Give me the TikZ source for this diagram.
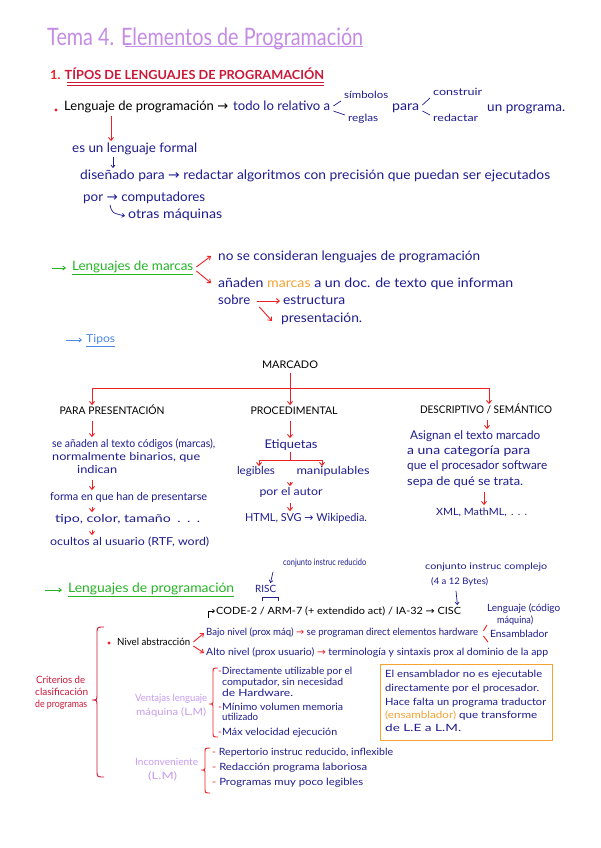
\documentclass[tikz,border=0pt]{standalone}
\usepackage{fontspec}
\usepackage{graphicx}
\setmainfont{Lato}
\newfontfamily\dejavu{DejaVu Sans}
\usetikzlibrary{arrows.meta,calc}
\definecolor{navy}{HTML}{1E1C8E}
\definecolor{hred}{HTML}{EE2024}
\definecolor{dred}{HTML}{CC1838}
\definecolor{hgreen}{HTML}{24B424}
\definecolor{purp}{HTML}{C48CE4}
\definecolor{lav}{HTML}{C89CF0}
\definecolor{horange}{HTML}{F6A234}
\definecolor{lblue}{HTML}{4C88E6}
\newcommand{\harr}{{\dejavu\char"2192}}
\newcommand{\fsz}[1]{\fontsize{#1}{#1}\selectfont}
\newdimen\natw
\newcommand{\fitw}[2]{\settowidth{\natw}{#2}\scalebox{\fpeval{#1/\natw}}[1]{#2}}
\tikzset{
  tx/.style={anchor=west, inner sep=0pt, text=navy, font=\fsz{13}, text height=0.74em, text depth=0.2em},
  tc/.style={tx, anchor=center},
  md/.style={font=\fsz{11}},
  sm/.style={font=\fsz{10}},
  xs/.style={font=\fsz{9}},
  caps/.style={font=\fsz{10.5}},
  ra/.style={draw=hred, line width=0.9pt, -{Straight Barb[length=3pt,width=5pt]}},
  rl/.style={draw=hred, line width=0.9pt},
  na/.style={draw=navy, line width=0.7pt, -{Straight Barb[length=2.5pt,width=4pt]}},
  ga/.style={draw=hgreen, line width=0.9pt, -{Straight Barb[length=2.5pt,width=4pt]}},
  ul/.style={line width=0.8pt},
  hbrace/.style={draw=hred, line width=0.9pt},
}
\begin{document}
\begin{tikzpicture}[x=1pt,y=-1pt]
\useasboundingbox (0,0) rectangle (600,848);
\fill[white] (0,0) rectangle (600,848);

% Title
\node[tx, text=purp, font=\fsz{24}] (title) at (47,43) {\fitw{316}{Tema 4. Elementos de Programación}};
\draw[purp, line width=0.9pt] ($(title.south west)+(78,-1)$) -- ($(title.south east)+(0,-1)$);
\node[tx, text=dred, font=\bfseries\fsz{12.5}] (h1) at (50,77) {\fitw{274}{\textcolor{hred}{1.} TÍPOS DE LENGUAJES DE PROGRAMACIÓN}};
\draw[dred, line width=1.1pt] ($(h1.south west)+(17,1)$) -- ($(h1.south east)+(0,1)$);
\draw[dred, line width=0.5pt] ($(h1.south west)+(17,3)$) -- ($(h1.south east)+(0,3)$);

% Line: lenguaje de programacion
\fill[hred] (56,110) circle (1.7);
\node[tx, text=black] (lp) at (64,108) {\fitw{164}{Lenguaje de programación \harr}};
\node[tx] (todo) at (233,108) {\fitw{97}{todo lo relativo a}};
\node[tx, sm] (simb) at (344,96) {\fitw{44}{símbolos}};
\node[tx, sm] (reg) at (348,119) {\fitw{30}{reglas}};
\draw[navy, line width=0.7pt] ($(todo.east)+(3,-2)$) -- ($(simb.west)+(-3,5)$);
\draw[navy, line width=0.7pt] ($(todo.east)+(3,3)$) -- ($(reg.west)+(-3,-4)$);
\node[tx] (para) at (392,108) {\fitw{27}{para}};
\node[tx, sm] (cons) at (433,93) {\fitw{49}{construir}};
\node[tx, sm] (redac) at (433,119) {\fitw{45}{redactar}};
\draw[navy, line width=0.7pt] ($(para.east)+(3,-3)$) -- ($(cons.west)+(-3,5)$);
\draw[navy, line width=0.7pt] ($(para.east)+(3,3)$) -- ($(redac.west)+(-3,-4)$);
\node[tx] (prog) at (487,109) {\fitw{78}{un programa.}};

\node[tx] (formal) at (72,150) {\fitw{125}{es un lenguaje formal}};
\draw[ra] ($(lp.south west)+(47,3)$) -- ($(formal.north west)+(39,-4)$);
\node[tx] (dis) at (80,177) {\fitw{470}{diseñado para \harr{} redactar algoritmos con precisión que puedan ser ejecutados}};
\draw[na] ($(formal.south west)+(41,2)$) -- ($(dis.north west)+(33,-4)$);
\node[tx] (por) at (83,199) {\fitw{122}{por \harr{} computadores}};
\node[tx] (otras) at (128,216) {\fitw{94}{otras máquinas}};
\draw[na] ($(por.south west)+(27,1)$) .. controls ($(por.south west)+(29,9)$) .. ($(otras.west)+(-3,0)$);

% Lenguajes de marcas
\coordinate (g1) at (52,268);
\node[tx, text=hgreen] (lm) at (72,268) {\fitw{121}{Lenguajes de marcas}};
\draw[ga] (g1) -- ($(lm.west)+(-6,0)$);
\draw[hgreen, ul] ($(lm.south west)+(0,1)$) -- ($(lm.south east)+(0,1)$);
\node[tx] (nosec) at (218,258) {\fitw{262}{no se consideran lenguajes de programación}};
\node[tx] (anaden) at (218,285) {\fitw{295}{añaden \textcolor{horange}{marcas} a un doc. de texto que informan}};
\draw[ra] ($(lm.east)+(3,-1)$) -- ($(nosec.west)+(-7,-2)$);
\draw[ra] ($(lm.east)+(3,3)$) -- ($(anaden.west)+(-7,-2)$);
\node[tx] (sobre) at (218,302) {\fitw{32}{sobre}};
\node[tx] (estr) at (283,302) {\fitw{62}{estructura}};
\node[tx] (pres) at (281,320) {\fitw{81}{presentación.}};
\draw[ra] ($(sobre.east)+(7,-1)$) -- ($(estr.west)+(-3,-1)$);
\draw[ra] ($(sobre.east)+(9,5)$) -- ($(pres.west)+(-9,1)$);

\coordinate (tb) at (66,340);
\node[tx, text=lblue, md] (tipos) at (86,340) {\fitw{29}{Tipos}};
\draw[draw=lblue, line width=0.8pt, -{Straight Barb[length=2.5pt,width=4pt]}] (tb) -- ($(tipos.west)+(-4,0)$);
\draw[lblue, line width=0.6pt] ($(tipos.south west)+(0,1)$) -- ($(tipos.south east)+(0,1)$);

% MARCADO tree
\node[tc, text=black, caps] (marc) at (290,366) {\fitw{56}{MARCADO}};
\node[tc, text=black, caps] (pp) at (112,412) {\fitw{105}{PARA PRESENTACIÓN}};
\node[tc, text=black, caps] (proc) at (294,412) {\fitw{87}{PROCEDIMENTAL}};
\node[tc, text=black, caps] (desc) at (486,411) {\fitw{132}{DESCRIPTIVO / SEMÁNTICO}};
\coordinate (tl) at (92,388);
\coordinate (tr) at (489,388);
\draw[rl] (tl) -- (tr);
\draw[ra] ($(marc.south)+(0,2)$) -- ($(marc.south |- proc.north)+(0,-2)$);
\draw[ra] (tl) -- ($(tl |- pp.north)+(0,-2)$);
\draw[ra] (tr) -- ($(tr |- desc.north)+(0,-2)$);

% left column
\node[tx, md] (l1) at (52,445) {\fitw{163}{se añaden al texto códigos (marcas),}};
\node[tx, md] (l2) at (52,458) {\fitw{148}{normalmente binarios, que}};
\node[tx, md] (l3) at (77,471) {\fitw{40}{indican}};
\node[tx, md] (l4) at (50,498) {\fitw{157}{forma en que han de presentarse}};
\node[tx, md] (l5) at (55,520) {\fitw{145}{tipo, color, tamaño\hspace{5pt}.\hspace{5pt}.\hspace{5pt}.}};
\node[tx, md] (l6) at (50,543) {\fitw{159}{ocultos al usuario (RTF, word)}};
\draw[ra] ($(tl |- pp.south)+(0,4)$) -- ($(tl |- l1.north)+(0,-3)$);
\draw[ra] ($(tl |- l3.south)+(0,4)$) -- ($(tl |- l4.north)+(0,-3)$);
\draw[ra] ($(tl |- l4.south)+(0,4)$) -- ($(tl |- l5.north)+(0,-3)$);
\draw[ra] ($(tl |- l5.south)+(0,5)$) -- ($(tl |- l6.north)+(0,-3)$);

% middle column
\node[tc, font=\fsz{12}] (m1) at (291,446) {\fitw{53}{Etiquetas}};
\node[tc, md] (m2) at (256,472) {\fitw{38}{legibles}};
\node[tc, md] (m3) at (333,472) {\fitw{73}{manipulables}};
\node[tc, md] (m4) at (291,493) {\fitw{63}{por el autor}};
\node[tc, md] (m5) at (306,519) {\fitw{122}{HTML, SVG \harr{} Wikipedia.}};
\draw[ra] ($(marc.south |- proc.south)+(0,4)$) -- ($(marc.south |- m1.north)+(0,-3)$);
\coordinate (fl) at (259,460);
\coordinate (fr) at (322,460);
\draw[rl] ($(marc.south |- m1.south)+(0,1)$) -- (marc.south |- fl);
\draw[rl] (fl) -- (fr);
\draw[ra] (fl) -- ($(fl |- m2.north)+(0,-1)$);
\draw[ra] (fr) -- ($(fr |- m3.north)+(0,-1)$);
\draw[ra] ($(marc.south |- m2.south)+(0,5)$) -- ($(marc.south |- m4.north)+(0,-2)$);
\draw[ra] ($(marc.south |- m4.south)+(0,5)$) -- ($(marc.south |- m5.north)+(0,-3)$);

% right column
\node[tx, font=\fsz{12}] (r1) at (410,437) {\fitw{130}{Asignan el texto marcado}};
\node[tx, font=\fsz{12}] (r2) at (407,452) {\fitw{123}{a una categoría para}};
\node[tx, font=\fsz{12}] (r3) at (407,467) {\fitw{140}{que el procesador software}};
\node[tx, font=\fsz{12}] (r4) at (407,483) {\fitw{116}{sepa de qué se trata.}};
\node[tx, sm] (r5) at (436,513) {\fitw{91}{XML, MathML,\hspace{4pt}.\hspace{4pt}.\hspace{4pt}.}};
\draw[ra] ($(tr |- desc.south)+(-2,4)$) -- ($(tr |- r1.north)+(-2,-3)$);
\draw[ra] ($(r4.south west)+(77,4)$) -- ($(r5.north west)+(48,-3)$);

% Lenguajes de programacion
\coordinate (g2) at (45,590);
\node[tx, text=hgreen] (lpg) at (68,590) {\fitw{166}{Lenguajes de programación}};
\draw[ga] (g2) -- ($(lpg.west)+(-6,0)$);
\draw[hgreen, ul] ($(lpg.south west)+(0,1)$) -- ($(lpg.south east)+(0,1)$);
\node[tx, xs] (ci) at (283,563) {\fitw{83}{conjunto instruc reducido}};
\node[tx, sm] (risc) at (255,590) {\fitw{21}{RISC}};
\draw[na] ($(ci.south west)+(-10,4)$) -- ($(risc.north east)+(-6,-2)$);
\node[tx, text=black, sm] (code) at (216,612) {\fitw{245}{CODE-2 / ARM-7 (+ extendido act) / IA-32 \harr{} CISC}};
\draw[black, line width=0.7pt, -{Straight Barb[length=2pt,width=3.5pt]}] ($(code.west)+(-8,6)$) |- ($(code.west)+(-1,-1)$);
\draw[navy, line width=0.8pt] ($(risc.south west)+(7,6)$) -- ++(0,-4) -- ++(16,0) -- ++(0,4);
\node[tx, xs] (cc) at (425,567) {\fitw{122}{conjunto instruc complejo}};
\node[tx, xs] (cb) at (431,582) {\fitw{57}{(4 a 12 Bytes)}};
\draw[na] ($(cb.south west)+(25,4)$) -- ($(code.north east)+(-4,-2)$);
\node[tx, sm] (lcm1) at (487,609) {\fitw{73}{Lenguaje (código}};
\node[tx, sm] (lcm2) at (497,621) {\fitw{36}{máquina)}};
\node[tx, sm] (ens) at (490,635) {\fitw{58}{Ensamblador}};

% criterios
\node[tx, text=dred, sm] (cr1) at (36,681) {\fitw{49}{Criterios de}};
\node[tx, text=dred, sm] (cr2) at (35,693) {\fitw{53}{clasificación}};
\node[tx, text=dred, sm] (cr3) at (35,705) {\fitw{52}{de programas}};
\draw[hbrace, draw=dred] (104,627) .. controls (97,627) .. (97,634) -- (97,694) .. controls (97,700) .. (92,700) .. controls (97,700) .. (97,706) -- (97,770) .. controls (97,777) .. (104,777);

\fill[hred] (109,643) circle (1.6);
\node[tx, text=black, sm] (na) at (117,643) {\fitw{73}{Nivel abstracción}};
\node[tx, sm] (bajo) at (206,633) {\fitw{272}{Bajo nivel (prox máq) \textcolor{hred}{\harr} se programan direct elementos hardware}};
\node[tx, sm] (alto) at (206,653) {\fitw{342}{Alto nivel (prox usuario) \textcolor{hred}{\harr} terminología y sintaxis prox al dominio de la app}};
\draw[ra] ($(na.east)+(3,-1)$) -- ($(bajo.west)+(-2,0)$);
\draw[ra] ($(na.east)+(3,3)$) -- ($(alto.west)+(-2,0)$);
\draw[rl] ($(bajo.east)+(5,-2)$) -- ($(lcm2.west)+(-10,4)$);
\draw[rl] ($(bajo.east)+(5,3)$) -- ($(ens.west)+(-2,7)$);

% ventajas
\node[tx, text=lav, sm] (v1) at (135,699) {\fitw{72}{Ventajas lenguaje}};
\node[tx, text=lav, sm] (v2) at (136,713) {\fitw{70}{máquina (L.M)}};
\draw[hbrace] (218,668) .. controls (213,668) .. (213,673) -- (213,700) .. controls (213,704) .. (209,704) .. controls (213,704) .. (213,708) -- (213,732) .. controls (213,737) .. (218,737);
\node[tx, sm] (d1) at (218,672) {\fitw{134}{\textcolor{hred}{-}Directamente utilizable por el}};
\node[tx, sm] (d1b) at (222,683) {\fitw{121}{computador, sin necesidad}};
\node[tx, sm] (d1c) at (222,694) {\fitw{71}{de Hardware.}};
\node[tx, sm] (d2) at (218,708) {\fitw{125}{\textcolor{hred}{-}Mínimo volumen memoria}};
\node[tx, sm] (d2b) at (222,718) {\fitw{36}{utilizado}};
\node[tx, sm] (d3) at (218,733) {\fitw{119}{\textcolor{hred}{-}Máx velocidad ejecución}};

% box
\node[draw=horange, line width=1.2pt, anchor=north west, minimum width=172pt, minimum height=76pt, inner sep=0pt] (box) at (380,664) {};
\node[tx, sm] (b1) at ($(box.north west)+(5,11)$) {\fitw{157}{El ensamblador no es ejecutable}};
\node[tx, sm] (b2) at ($(box.north west)+(5,25)$) {\fitw{154}{directamente por el procesador.}};
\node[tx, sm] (b3) at ($(box.north west)+(5,39)$) {\fitw{161}{Hace falta un programa traductor}};
\node[tx, sm] (b4) at ($(box.north west)+(5,52)$) {\fitw{152}{\textcolor{horange}{(ensamblador)} que transforme}};
\node[tx, sm] (b5) at ($(box.north west)+(5,65)$) {\fitw{76}{de L.E a L.M.}};

% inconveniente
\node[tx, text=lav, sm] (i1) at (135,763) {\fitw{63}{Inconveniente}};
\node[tx, text=lav, sm] (i2) at (148,777) {\fitw{29}{(L.M)}};
\draw[hbrace] (210,748) .. controls (205,748) .. (205,753) -- (205,766) .. controls (205,770) .. (201,770) .. controls (205,770) .. (205,774) -- (205,788) .. controls (205,793) .. (210,793);
\node[tx, sm] (e1) at (212,753) {\fitw{181}{\textcolor{hred}{-} Repertorio instruc reducido, inflexible}};
\node[tx, sm] (e2) at (212,768) {\fitw{155}{\textcolor{hred}{-} Redacción programa laboriosa}};
\node[tx, sm] (e3) at (212,783) {\fitw{151}{\textcolor{hred}{-} Programas muy poco legibles}};
\end{tikzpicture}
\end{document}
